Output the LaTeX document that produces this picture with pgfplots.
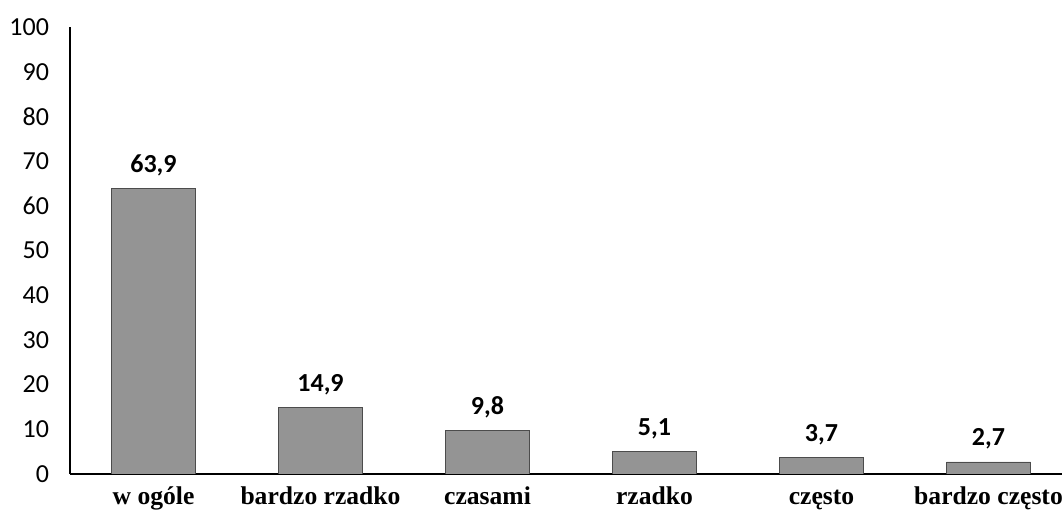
\documentclass[border=0pt]{standalone}
\usepackage{pgfplots}
\pgfplotsset{compat=1.18}
\usepackage{pgfplotstable}
\usepackage{fontspec}
\setmainfont{Liberation Serif}
\newfontfamily\calibri{Carlito}

% x = category index, y = percent
\pgfplotstableread{
x y
0 63.9
1 14.9
2 9.8
3 5.1
4 3.7
5 2.7
}\data

\begin{document}
\begin{tikzpicture}
\begin{axis}[
  scale only axis, width=496pt, height=223.5pt,
  xmin=-0.5, xmax=5.44, ymin=0, ymax=100,
  axis lines*=left,
  axis line style={black, line width=0.6pt},
  xtick={0,...,5},
  xticklabels={w ogóle, bardzo rzadko, czasami, rzadko, często, bardzo często},
  ytick={0,10,...,100},
  major tick length=0pt,
  /pgf/number format/assume math mode=true,
  xticklabel style={font=\fontsize{12.8}{15}\selectfont\bfseries, anchor=base, yshift=-15.5pt},
  yticklabel style={font=\fontsize{13}{15}\selectfont\calibri, anchor=east, xshift=-7pt},
]
\addplot[ybar, bar width=42pt, fill=black!42, draw=black!70,
  nodes near coords,
  every node near coord/.append style={anchor=base, yshift=8pt,
    /pgf/number format/use comma, /pgf/number format/fixed,
    /pgf/number format/fixed zerofill, /pgf/number format/precision=1,
    font=\fontsize{13}{15}\selectfont\calibri\bfseries, text=black},
] table[x=x, y=y] {\data};
\coordinate (bl) at (rel axis cs:0,0);
\coordinate (tr) at (rel axis cs:1,1);
\end{axis}
\pgfresetboundingbox
\path[use as bounding box] ([xshift=-35pt,yshift=-20pt]bl) rectangle ([yshift=13.5pt]tr);
\end{tikzpicture}
\end{document}
